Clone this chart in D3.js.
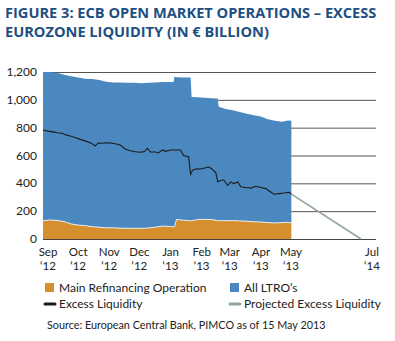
<!DOCTYPE html>
<html>
<head>
<meta charset="utf-8">
<script src="https://cdn.jsdelivr.net/npm/d3@7"></script>
<style>
  body { margin: 0; background: #fff; }
  svg { display: block; font-family: Lato, "Open Sans", sans-serif; }
</style>
</head>
<body>
<div id="chart"></div>
<script>

// data (EUR billion)
var areaDates = ["2012-08-27","2012-09-03","2012-09-10","2012-09-17","2012-09-24","2012-10-01","2012-10-08",
  "2012-10-15","2012-10-22","2012-10-29","2012-11-05","2012-11-12","2012-11-19","2012-11-26","2012-12-03",
  "2012-12-10","2012-12-17","2012-12-24","2012-12-31","2013-01-04","2013-01-05","2013-01-07","2013-01-14",
  "2013-01-21","2013-01-22","2013-01-28","2013-02-04","2013-02-11","2013-02-17","2013-02-18","2013-02-25",
  "2013-03-04","2013-03-11","2013-03-18","2013-03-25","2013-04-01","2013-04-08","2013-04-15","2013-04-22",
  "2013-04-28","2013-05-03"];
var mro = [131,137,133,125,108,100,96,88,85,80,80,78,77,77,77,79,85,93,90,88,88,141,135,131,131,140,141,140,
  132,132,132,132,130,128,124,122,118,115,118,120,115];
var ltro = [1069,1063,1062,1055,1062,1060,1056,1062,1057,1050,1045,1047,1046,1045,1043,1043,1040,1035,1038,
  1040,1077,1022,1025,1029,889,878,874,872,878,818,803,793,782,772,766,758,742,735,725,732,735];

var excessDates = ["2012-08-27","2012-09-01","2012-09-06","2012-09-10","2012-09-15","2012-09-19","2012-09-23",
  "2012-09-28","2012-10-03","2012-10-08","2012-10-13","2012-10-16","2012-10-18","2012-10-21","2012-10-25",
  "2012-10-29","2012-11-02","2012-11-07","2012-11-12","2012-11-17","2012-11-22","2012-11-27","2012-12-02",
  "2012-12-06","2012-12-09","2012-12-12","2012-12-17","2012-12-20","2012-12-24","2012-12-27","2013-01-01",
  "2013-01-06","2013-01-11","2013-01-14","2013-01-19","2013-01-21","2013-01-23","2013-01-27","2013-01-31",
  "2013-02-04","2013-02-08","2013-02-11","2013-02-15","2013-02-17","2013-02-20","2013-02-23","2013-02-27",
  "2013-03-02","2013-03-05","2013-03-09","2013-03-12","2013-03-17","2013-03-22","2013-03-27","2013-04-01",
  "2013-04-06","2013-04-09","2013-04-14","2013-04-19","2013-04-24","2013-04-29","2013-05-03"];
var excess = [783,775,770,764,760,748,740,730,716,705,692,680,668,690,688,692,690,685,675,645,634,627,623,
  628,652,625,625,618,640,630,640,640,640,600,590,465,495,505,503,510,517,505,478,412,420,424,385,410,398,
  410,376,370,366,379,370,362,347,322,326,330,336,323];

var projDates = ["2013-05-03","2014-05-04"];
var projected = [323, 0];

var tickDates = ["2012-09-01","2012-10-01","2012-11-01","2012-12-01","2013-01-01","2013-02-01",
  "2013-03-01","2013-04-01","2013-05-01","2014-07-01"];
var tickMonths = ["Sep","Oct","Nov","Dec","Jan","Feb","Mar","Apr","May","Jul"];
var tickYears = ["\u201812","\u201812","\u201812","\u201812","\u201813","\u201813","\u201813","\u201813","\u201813","\u201814"];
var yTicks = [0,200,400,600,800,1000,1200];

var parse = d3.timeParse("%Y-%m-%d");

var width = 395, height = 341;
var plot = {left: 43, right: 376, top: 72, bottom: 239};

var svg = d3.select("#chart").append("svg")
  .attr("width", width)
  .attr("height", height);

// title
var title = svg.append("g")
  .attr("fill", "#1d4f82")
  .attr("font-family", "'Open Sans', sans-serif")
  .attr("font-weight", "bold")
  .attr("font-size", 14.6);
title.append("text").attr("x", 5).attr("y", 18).text("FIGURE 3: ECB OPEN MARKET OPERATIONS \u2013 EXCESS");
title.append("text").attr("x", 5).attr("y", 37).text("EUROZONE LIQUIDITY (IN \u20ac BILLION)");

// broken time axis: Sep'12-May'13 then jump to Jul'14
var x = d3.scaleTime()
  .domain([parse("2012-08-27"), parse("2013-05-01"), parse("2014-07-01")])
  .range([plot.left, 291, 372]);

var y = d3.scaleLinear()
  .domain([0, 1200])
  .range([plot.bottom, plot.top]);

// gridlines
svg.append("g")
  .selectAll("line")
  .data(yTicks.slice(1))
  .enter()
  .append("line")
    .attr("x1", plot.left)
    .attr("x2", plot.right)
    .attr("y1", function(d) { return y(d) + 0.5; })
    .attr("y2", function(d) { return y(d) + 0.5; })
    .attr("stroke", "#555")
    .attr("stroke-width", 1);

// stacked areas
var rows = areaDates.map(function(d, i) { return {date: parse(d), mro: mro[i], ltro: ltro[i]}; });
var stack = d3.stack().keys(["mro", "ltro"])(rows);
var colors = {mro: "#d68f2e", ltro: "#4b88c0"};

var area = d3.area()
  .x(function(d) { return x(d.data.date); })
  .y0(function(d) { return y(d[0]); })
  .y1(function(d) { return y(d[1]); });

svg.append("g")
  .selectAll("path")
  .data(stack.slice().reverse())
  .enter()
  .append("path")
    .attr("d", area)
    .attr("fill", function(d) { return colors[d.key]; });

// thin light edge on top of MRO
svg.append("path")
  .datum(stack[0])
  .attr("d", d3.line()
    .x(function(d) { return x(d.data.date); })
    .y(function(d) { return y(d[1]); }))
  .attr("fill", "none")
  .attr("stroke", "#e8ecef")
  .attr("stroke-width", 1);

// baseline
svg.append("line")
  .attr("x1", plot.left)
  .attr("x2", plot.right)
  .attr("y1", y(0) + 0.5)
  .attr("y2", y(0) + 0.5)
  .attr("stroke", "#444")
  .attr("stroke-width", 1.2);

// excess liquidity line
var line = d3.line()
  .x(function(d) { return x(d.date); })
  .y(function(d) { return y(d.value); });

svg.append("path")
  .datum(excessDates.map(function(d, i) { return {date: parse(d), value: excess[i]}; }))
  .attr("d", line)
  .attr("fill", "none")
  .attr("stroke", "#1b1b1b")
  .attr("stroke-width", 1.1);

svg.append("path")
  .datum(projDates.map(function(d, i) { return {date: parse(d), value: projected[i]}; }))
  .attr("d", line)
  .attr("fill", "none")
  .attr("stroke", "#8fa698")
  .attr("stroke-width", 1.6);

// y labels
svg.append("g")
  .attr("font-size", 12)
  .attr("fill", "#222")
  .attr("text-anchor", "end")
  .selectAll("text")
  .data(yTicks)
  .enter()
  .append("text")
    .attr("x", 37)
    .attr("y", function(d) { return y(d) + 4; })
    .text(function(d) { return d3.format(",")(d); });

// x labels (month over year)
var xl = svg.append("g")
  .attr("font-size", 11.5)
  .attr("fill", "#222")
  .attr("text-anchor", "middle");
xl.selectAll("text.m")
  .data(tickDates)
  .enter()
  .append("text")
    .attr("class", "m")
    .attr("x", function(d) { return x(parse(d)); })
    .attr("y", 256)
    .text(function(d, i) { return tickMonths[i]; });
xl.selectAll("text.yr")
  .data(tickDates)
  .enter()
  .append("text")
    .attr("class", "yr")
    .attr("x", function(d) { return x(parse(d)); })
    .attr("y", 270)
    .text(function(d, i) { return tickYears[i]; });

// legend
var legend = svg.append("g").attr("font-size", 12).attr("fill", "#222");
var items = [
  {label: "Main Refinancing Operation", type: "box", color: colors.mro, x: 45, y: 288},
  {label: "All LTRO\u2019s", type: "box", color: colors.ltro, x: 230, y: 288},
  {label: "Excess Liquidity", type: "line", color: "#1b1b1b", x: 45, y: 304},
  {label: "Projected Excess Liquidity", type: "line", color: "#8fa698", x: 230, y: 304}
];
items.forEach(function(it) {
  if (it.type == "box") {
    legend.append("rect").attr("x", it.x).attr("y", it.y - 5).attr("width", 9).attr("height", 9).attr("fill", it.color);
  } else {
    legend.append("line").attr("x1", it.x).attr("x2", it.x + 10).attr("y1", it.y).attr("y2", it.y)
      .attr("stroke", it.color).attr("stroke-width", 3).attr("stroke-linecap", "round");
  }
  legend.append("text").attr("x", it.x + 14).attr("y", it.y + 4).text(it.label);
});

svg.append("text")
  .attr("x", 47)
  .attr("y", 329)
  .attr("font-size", 10.8)
  .attr("fill", "#222")
  .text("Source: European Central Bank, PIMCO as of 15 May 2013");

</script>
</body>
</html>
